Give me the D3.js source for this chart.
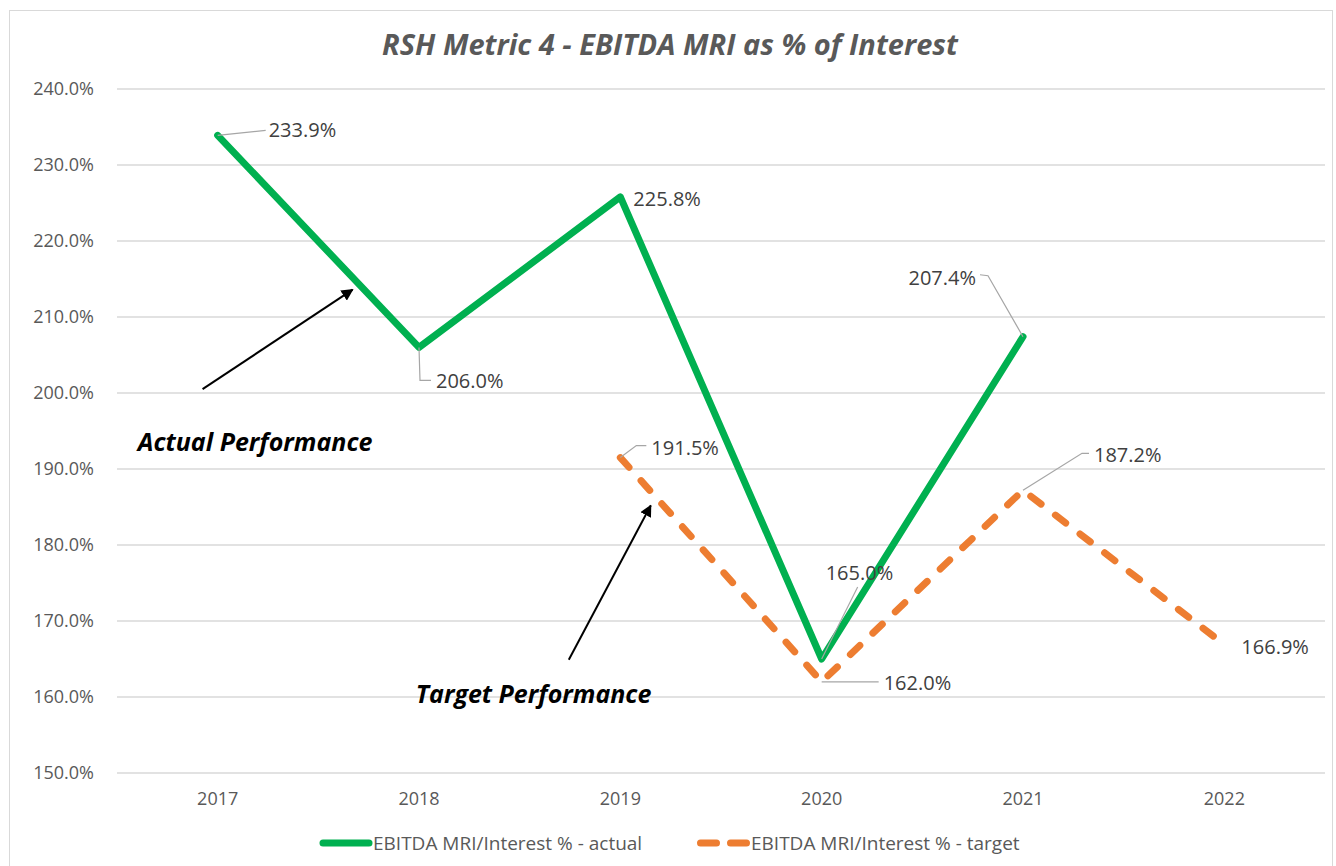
<!DOCTYPE html>
<html>
<head>
<meta charset="utf-8">
<script src="https://cdn.jsdelivr.net/npm/d3@7"></script>
<style>
  body { margin: 0; background: #fff; }
  text { font-family: "Open Sans", Lato, sans-serif; }
</style>
</head>
<body>
<div id="chart"></div>
<script>
// chart values
var years = ["2017", "2018", "2019", "2020", "2021", "2022"];
var actual = [233.9, 206.0, 225.8, 165.0, 207.4, null];
var target = [null, null, 191.5, 162.0, 187.2, 166.9];
var yTicks = [150, 160, 170, 180, 190, 200, 210, 220, 230, 240];
var seriesNames = ["EBITDA MRI/Interest % - actual", "EBITDA MRI/Interest % - target"];

var width = 1336, height = 866;
var margin = { top: 89, right: 11, bottom: 93, left: 117 };

var svg = d3.select("#chart").append("svg")
  .attr("width", width)
  .attr("height", height);

// chart border
svg.append("rect")
  .attr("x", 9.5).attr("y", 10.5)
  .attr("width", 1323).attr("height", 870)
  .attr("fill", "none")
  .attr("stroke", "#d9d9d9");

var x = d3.scaleBand()
  .domain(years)
  .range([margin.left, width - margin.right]);

var y = d3.scaleLinear()
  .domain([150, 240])
  .range([height - margin.bottom, margin.top]);

var cx = function (i) { return x(years[i]) + x.bandwidth() / 2; };
// fractional index -> x, for annotations between categories
var xi = d3.scaleLinear().domain([0, 5]).range([cx(0), cx(5)]);

// title
svg.append("text")
  .attr("x", 670).attr("y", 55)
  .attr("text-anchor", "middle")
  .style("font-size", "29px")
  .style("font-weight", "bold")
  .style("font-style", "italic")
  .attr("fill", "#595959")
  .text("RSH Metric 4 - EBITDA MRI as % of Interest");

// gridlines
svg.append("g")
  .selectAll("line")
  .data(yTicks)
  .enter().append("line")
  .attr("x1", margin.left).attr("x2", width - margin.right)
  .attr("y1", function (d) { return y(d); })
  .attr("y2", function (d) { return y(d); })
  .attr("stroke", "#d9d9d9")
  .attr("stroke-width", 1.5);

// y axis labels
var yAxis = svg.append("g")
  .attr("transform", "translate(" + (margin.left - 20) + ",0)")
  .call(d3.axisLeft(y).tickValues(yTicks).tickSize(0).tickFormat(function (d) { return d.toFixed(1) + "%"; }));
yAxis.select(".domain").remove();
yAxis.selectAll("text")
  .attr("fill", "#595959")
  .style("font-size", "18px")
  .style("font-family", "'Open Sans', sans-serif");

// x axis labels
var xAxis = svg.append("g")
  .attr("transform", "translate(0," + (height - margin.bottom + 16) + ")")
  .call(d3.axisBottom(x).tickSize(0));
xAxis.select(".domain").remove();
xAxis.selectAll("text")
  .attr("fill", "#595959")
  .style("font-size", "18px")
  .style("font-family", "'Open Sans', sans-serif");

// lines
var line = d3.line()
  .defined(function (d) { return d != null; })
  .x(function (d, i) { return cx(i); })
  .y(function (d) { return y(d); });

svg.append("path")
  .datum(target)
  .attr("d", line)
  .attr("fill", "none")
  .attr("stroke", "#ED7D31")
  .attr("stroke-width", 7)
  .attr("stroke-linecap", "round")
  .attr("stroke-linejoin", "round")
  .attr("stroke-dasharray", "13,18");

svg.append("path")
  .datum(actual)
  .attr("d", line)
  .attr("fill", "none")
  .attr("stroke", "#00B050")
  .attr("stroke-width", 7)
  .attr("stroke-linecap", "round")
  .attr("stroke-linejoin", "round");

// data labels: offsets of label anchor (x, middle y) from the point, plus leader bend
var actualLabels = [
  { dx: 51, dy: -5, leader: [[48, -5]] },
  { dx: 17, dy: 34, leader: [[1, 33], [12, 33]] },
  { dx: 13, dy: 2, leader: null },
  { dx: 4, dy: -86, leader: [[36, -72]] },
  { dx: -47, dy: -59, anchor: "end", leader: [[-35, -61], [-43, -62]] }
];
var targetLabels = [
  null, null,
  { dx: 31, dy: -10, leader: [[16, -12], [26, -12]] },
  { dx: 62, dy: 1, leader: [[57, 0]] },
  { dx: 71, dy: -35, leader: [[59, -37], [66, -37]] },
  { dx: 17, dy: 2, leader: null }
];

function drawLabels(values, offsets) {
  values.forEach(function (v, i) {
    if (v == null || !offsets[i]) return;
    var px = cx(i), py = y(v), o = offsets[i];
    if (o.leader) {
      var pts = [[px, py]].concat(o.leader.map(function (p) { return [px + p[0], py + p[1]]; }));
      svg.append("path")
        .attr("d", d3.line()(pts))
        .attr("fill", "none")
        .attr("stroke", "#a6a6a6")
        .attr("stroke-width", 1.2);
    }
    svg.append("text")
      .attr("x", px + o.dx)
      .attr("y", py + o.dy)
      .attr("dy", "0.35em")
      .attr("text-anchor", o.anchor || "start")
      .attr("fill", "#404040")
      .style("font-size", "20px")
      .text(v.toFixed(1) + "%");
  });
}
drawLabels(actual, actualLabels);
drawLabels(target, targetLabels);

// arrows and annotation text
svg.append("defs").append("marker")
  .attr("id", "arrow")
  .attr("viewBox", "0 0 10 10")
  .attr("refX", 9).attr("refY", 5)
  .attr("markerWidth", 6).attr("markerHeight", 6)
  .attr("orient", "auto")
  .append("path")
  .attr("d", "M0,0 L10,5 L0,10 Z")
  .attr("fill", "#000");

var notes = [
  { text: "Actual Performance", tx: -0.397, ty: 192.4, from: [-0.075, 200.5], to: [0.67, 213.6] },
  { text: "Target Performance", tx: 0.984, ty: 159.2, from: [1.744, 164.9], to: [2.151, 185.2] }
];

notes.forEach(function (n) {
  svg.append("line")
    .attr("x1", xi(n.from[0])).attr("y1", y(n.from[1]))
    .attr("x2", xi(n.to[0])).attr("y2", y(n.to[1]))
    .attr("stroke", "#000")
    .attr("stroke-width", 2)
    .attr("marker-end", "url(#arrow)");
  svg.append("text")
    .attr("x", xi(n.tx)).attr("y", y(n.ty))
    .style("font-size", "25px")
    .style("font-weight", "bold")
    .style("font-style", "italic")
    .attr("fill", "#000")
    .text(n.text);
});

// legend
var legendY = 843;
var legend = svg.append("g");
legend.append("line")
  .attr("x1", 323).attr("x2", 369)
  .attr("y1", legendY).attr("y2", legendY)
  .attr("stroke", "#00B050").attr("stroke-width", 7).attr("stroke-linecap", "round");
legend.append("text")
  .attr("x", 373).attr("y", legendY).attr("dy", "0.35em")
  .attr("fill", "#595959").style("font-size", "19px")
  .text(seriesNames[0]);
legend.append("line")
  .attr("x1", 700.5).attr("x2", 746.5)
  .attr("y1", legendY).attr("y2", legendY)
  .attr("stroke", "#ED7D31").attr("stroke-width", 7).attr("stroke-linecap", "round")
  .attr("stroke-dasharray", "16,14");
legend.append("text")
  .attr("x", 751).attr("y", legendY).attr("dy", "0.35em")
  .attr("fill", "#595959").style("font-size", "19px")
  .text(seriesNames[1]);
</script>
</body>
</html>
